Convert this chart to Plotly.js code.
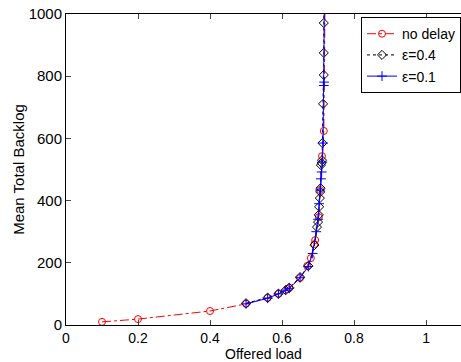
<!DOCTYPE html>
<html><head><meta charset="utf-8">
<script src="https://cdn.plot.ly/plotly-3.0.1.min.js"></script>
<style>html,body{margin:0;padding:0;background:#fff;}</style>
</head><body><div id="chart" style="width:461px;height:362px;"></div>
<script>
const noDelayX = [0.1,0.2,0.4,0.5,0.56,0.59,0.615,0.62,0.65,0.67,0.68,0.69,0.692,0.702,0.706,0.711,0.716,0.72];
const noDelayY = [10,19,45,68,87,100,115,119,151,190,215,260,273,347,434,543,624,1100];
const eps04X = [0.5,0.56,0.59,0.61,0.62,0.65,0.673,0.69,0.697,0.70,0.702,0.703,0.705,0.706,0.707,0.708,0.71,0.711,0.712,0.714,0.716,0.716,0.716,0.716];
const eps04Y = [70,88,101,112,120,154,190,257,315,331,354,380,408,428,440,514,521,530,585,711,804,875,971,1100];
const eps01X = [0.5,0.56,0.59,0.61,0.62,0.65,0.673,0.685,0.695,0.70,0.703,0.706,0.708,0.71,0.712,0.714,0.716,0.717,0.718];
const eps01Y = [68,86,100,112,118,152,188,230,300,340,390,434,470,492,524,585,770,781,1100];
const xTicks = [0,0.2,0.4,0.6,0.8,1];
const xTickText = ['0','0.2','0.4','0.6','0.8','1'];
const yTicks = [0,200,400,600,800,1000];

const traces = [
  {x: noDelayX, y: noDelayY, name: 'no delay', mode: 'lines+markers',
   line: {color: '#ff0000', width: 1, dash: 'dashdot'},
   marker: {symbol: 'circle-open', size: 7, color: '#ff0000', line: {width: 1}}},
  {x: eps04X, y: eps04Y, name: 'ε=0.4', mode: 'lines+markers',
   line: {color: '#000000', width: 1, dash: 'dot'},
   marker: {symbol: 'diamond-open', size: 7, color: '#000000', line: {width: 1}}},
  {x: eps01X, y: eps01Y, name: 'ε=0.1', mode: 'lines+markers',
   line: {color: '#0000ff', width: 1},
   marker: {symbol: 'cross-thin-open', size: 7, color: '#0000ff', line: {width: 1, color: '#0000ff'}}}
];

const layout = {
  width: 461, height: 362,
  margin: {l: 66, r: 0, t: 14, b: 37},
  paper_bgcolor: '#fff', plot_bgcolor: '#fff',
  font: {family: 'Liberation Sans, Arial, sans-serif', size: 14, color: '#000'},
  showlegend: true,
  legend: {x: 1, xanchor: 'right', y: 0.99, yanchor: 'top', xref: 'paper', yref: 'paper',
           bordercolor: '#000', borderwidth: 1, bgcolor: '#fff',
           font: {size: 14}, tracegroupgap: 0, itemwidth: 30},
  xaxis: {range: [0, 1.097], tickvals: xTicks, ticktext: xTickText, ticks: 'inside', ticklen: 5,
          showline: true, linecolor: '#000', linewidth: 1, mirror: 'ticks', showgrid: false, zeroline: false,
          tickfont: {size: 14},
          title: {text: 'Offered load', font: {size: 14}}},
  yaxis: {range: [0, 1000], tickvals: yTicks, ticks: 'inside', ticklen: 5,
          showline: true, linecolor: '#000', linewidth: 1, showgrid: false, zeroline: false,
          tickfont: {size: 15},
          title: {text: 'Mean Total Backlog', font: {size: 15}, standoff: 0}}
};
Plotly.newPlot('chart', traces, layout, {displayModeBar: false, staticPlot: true});
</script></body></html>
